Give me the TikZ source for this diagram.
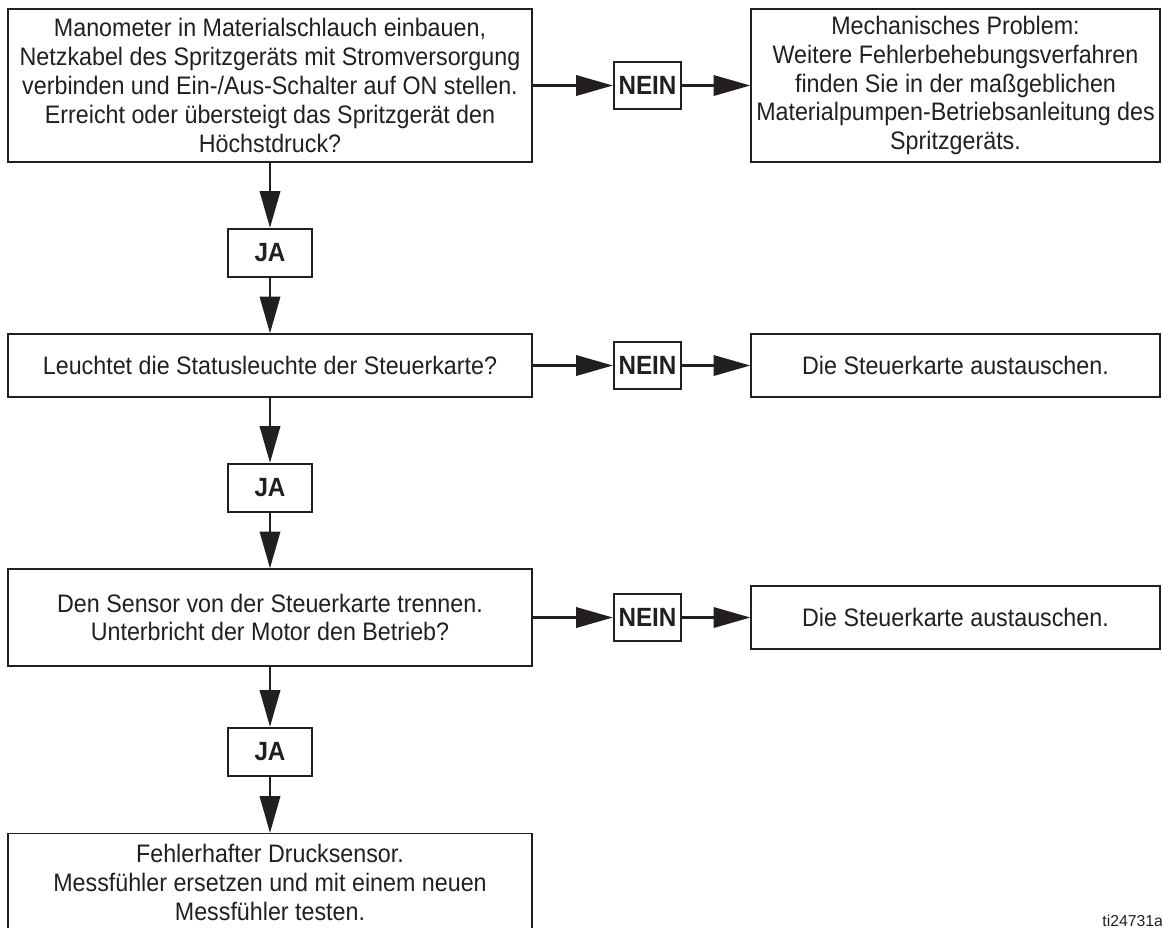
\documentclass[tikz,border=0pt]{standalone}
\usepackage{fontspec}
\setmainfont{Liberation Sans}[FakeStretch=0.92]
\newfontfamily\plainsans{Liberation Sans}
\usepackage{tikz}
\usetikzlibrary{arrows.meta}
\definecolor{ink}{HTML}{231F20}
\tikzset{
  qbox/.style={draw=ink, line width=0.7pt, text=ink, align=center, inner sep=0pt,
    font=\fontsize{14.4}{16.4}\selectfont, minimum width=10.48cm},
  abox/.style={qbox, minimum width=8.18cm},
  tag/.style={draw=ink, line width=1.2pt, text=ink, inner sep=0pt,
    font=\fontsize{15}{16}\selectfont\bfseries, minimum height=0.94cm},
  jatag/.style={tag, minimum width=1.68cm, minimum height=0.96cm},
  neintag/.style={tag, minimum width=1.34cm},
  flow/.style={draw=ink, line width=1.7pt, -{Triangle[length=21pt,width=11.5pt]}},
  figno/.style={text=ink, font=\plainsans\fontsize{9}{10}\selectfont, inner sep=0pt}
}
\begin{document}
\begin{tikzpicture}[x=0.02cm, y=-0.02cm]
\useasboundingbox (0,0) rectangle (1162,927);
\clip (0,0) rectangle (1162,927);

\node[qbox, minimum height=3.06cm] (gauge) at (270,85.5)
  {Manometer in Materialschlauch einbauen,\\
   Netzkabel des Spritzgeräts mit Stromversorgung\\
   verbinden und Ein-/Aus-Schalter auf ON stellen.\\
   Erreicht oder übersteigt das Spritzgerät den\\
   Höchstdruck?};
\node[neintag] (nein1) at (647.5,85.5) {NEIN};
\node[abox, minimum height=3.06cm] (mech) at (955.5,85.5)
  {Mechanisches Problem:\\
   Weitere Fehlerbehebungsverfahren\\
   finden Sie in der maßgeblichen\\
   Materialpumpen-Betriebsanleitung des\\
   Spritzgeräts.};
\node[jatag] (ja1) at (270,253) {JA};

\node[qbox, minimum height=1.26cm] (led) at (270,365.5)
  {Leuchtet die Statusleuchte der Steuerkarte?};
\node[neintag] (nein2) at (647.5,365.5) {NEIN};
\node[abox, minimum height=1.26cm] (swap1) at (955.5,365.5)
  {Die Steuerkarte austauschen.};
\node[jatag] (ja2) at (270,488) {JA};

\node[qbox, minimum height=1.94cm] (sensor) at (270,617.5)
  {Den Sensor von der Steuerkarte trennen.\\
   Unterbricht der Motor den Betrieb?};
\node[neintag] (nein3) at (647.5,617.5) {NEIN};
\node[abox, minimum height=1.26cm] (swap2) at (955.5,617.5)
  {Die Steuerkarte austauschen.};
\node[jatag] (ja3) at (270,752) {JA};

\node[qbox, minimum height=1.96cm, anchor=north] (faulty) at (270,833)
  {Fehlerhafter Drucksensor.\\
   Messfühler ersetzen und mit einem neuen\\
   Messfühler testen.};

\node[figno, anchor=base west] (fig) at (1102,926) {ti24731a};

% yes branch
\draw[flow] (gauge) -- (ja1);
\draw[flow] (ja1) -- (led);
\draw[flow] (led) -- (ja2);
\draw[flow] (ja2) -- (sensor);
\draw[flow] (sensor) -- (ja3);
\draw[flow] (ja3) -- (faulty);

% no branch
\draw[flow] (gauge) -- (nein1);
\draw[flow] (nein1) -- (mech);
\draw[flow] (led) -- (nein2);
\draw[flow] (nein2) -- (swap1);
\draw[flow] (sensor) -- (nein3);
\draw[flow] (nein3) -- (swap2);
\end{tikzpicture}
\end{document}
